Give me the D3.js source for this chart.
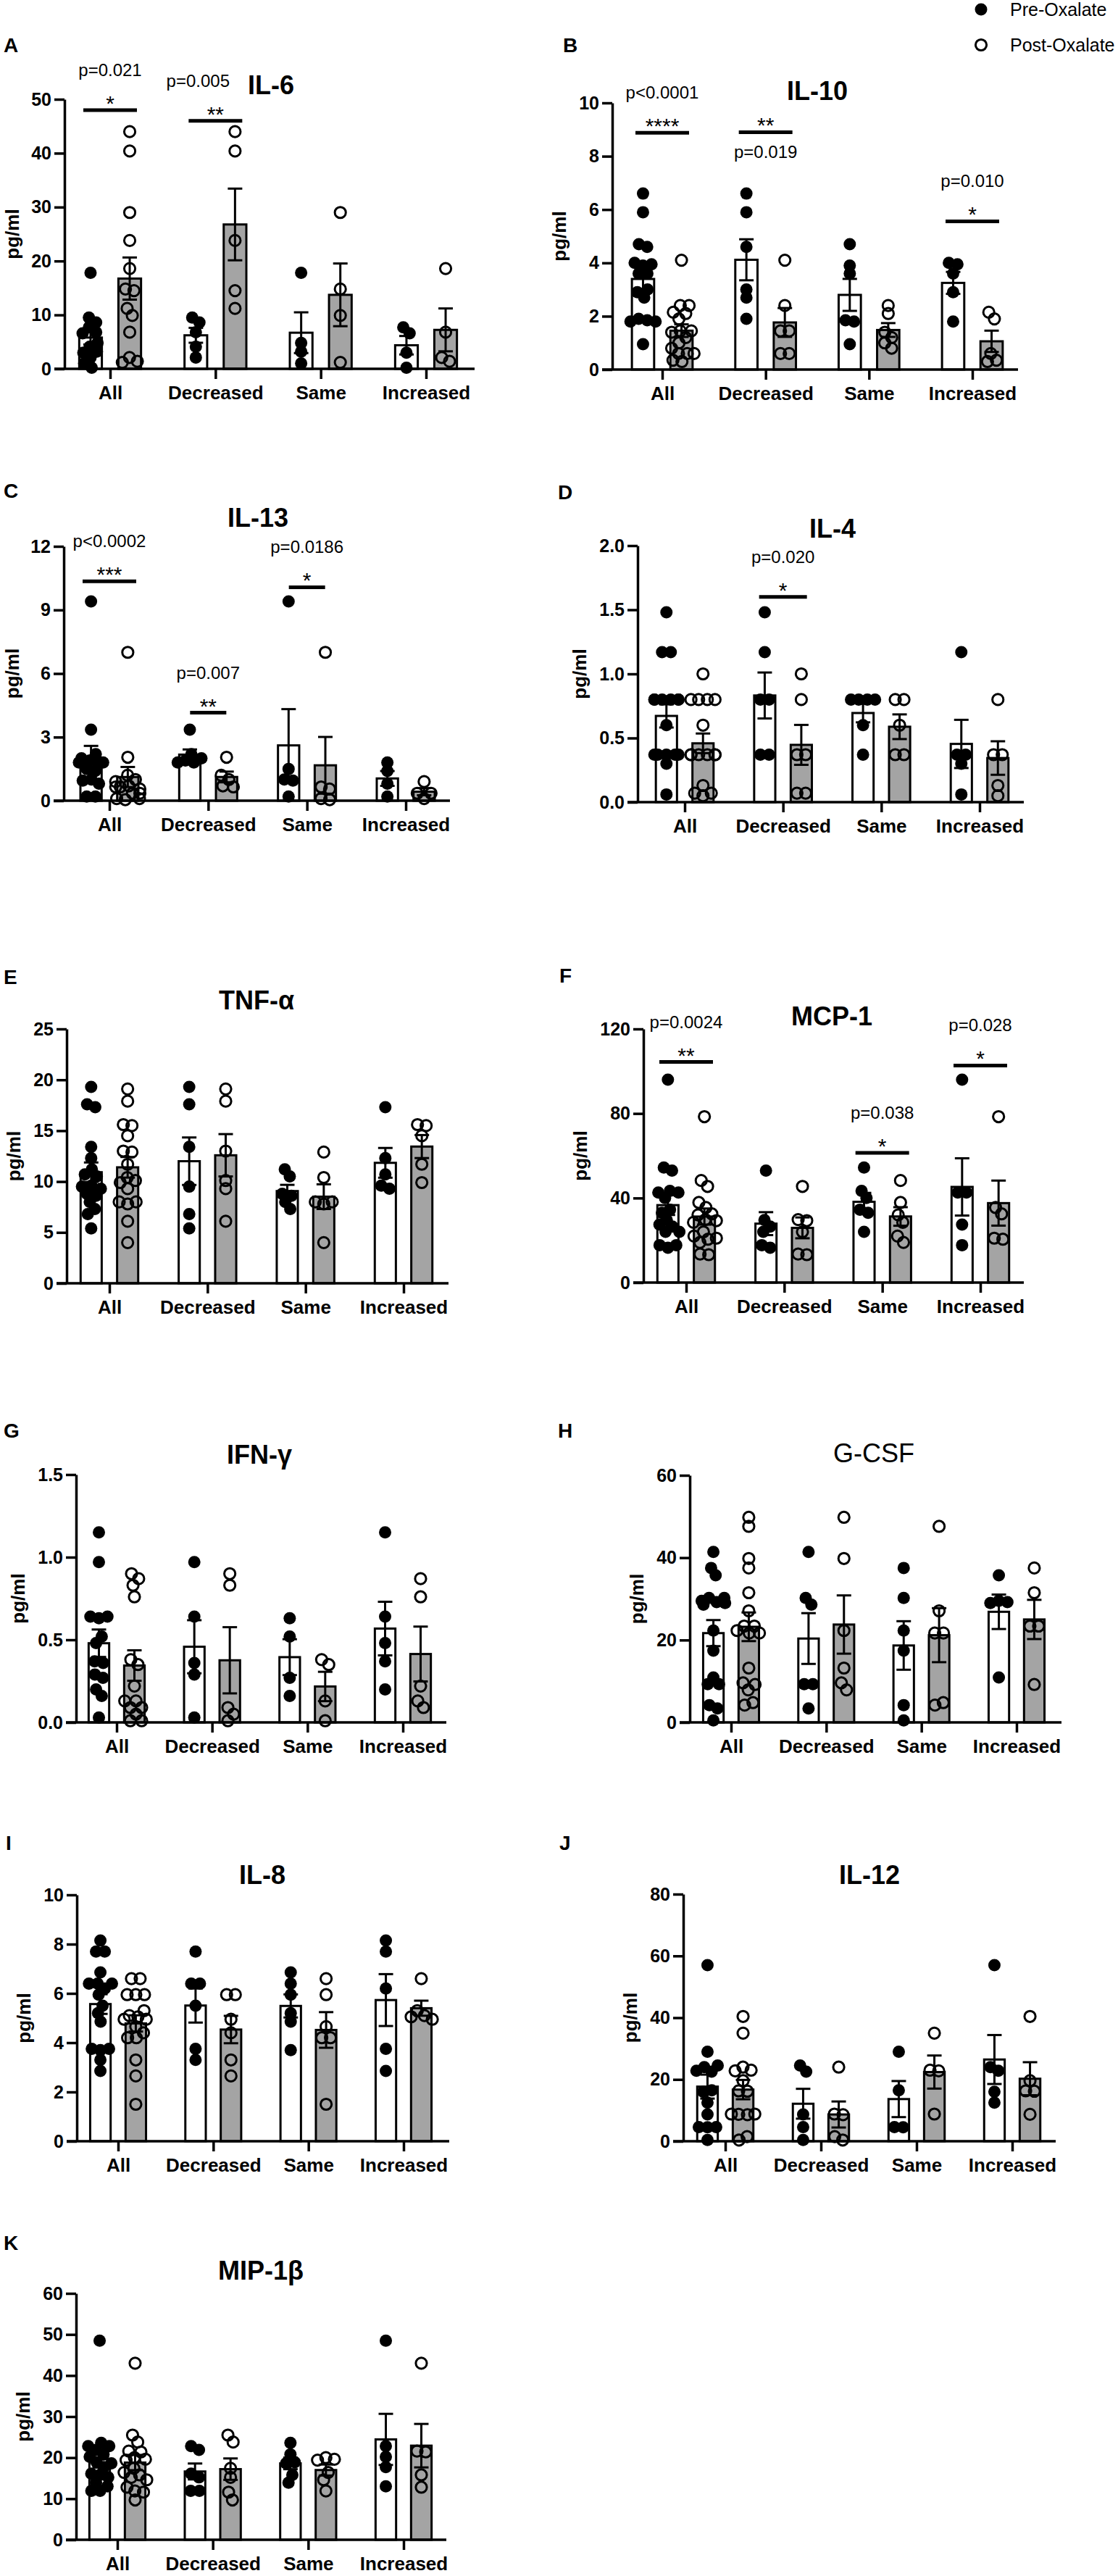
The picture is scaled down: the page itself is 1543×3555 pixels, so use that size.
<!DOCTYPE html>
<html lang="en">
<head>
<meta charset="UTF-8">
<title>Cytokines pre/post oxalate</title>
<style>
  body { margin: 0; background: #fff; }
  svg { display: block; font-family: "Liberation Sans", Arial, sans-serif; }
  .tick text { font-size: 25px; font-weight: bold; fill: #000; }
  .xaxis .tick text { font-size: 26px; }
  .title { font-size: 36px; font-weight: bold; text-anchor: middle; }
  .title.thin { font-weight: normal; }
  .letter { font-size: 28px; font-weight: bold; }
  .unit { font-size: 26px; font-weight: bold; text-anchor: middle; }
  .pval { font-size: 24px; text-anchor: middle; }
  .stars { font-size: 30px; text-anchor: middle; }
  .legend { font-size: 25px; }
</style>
</head>
<body>
<script src="https://d3js.org/d3.v7.min.js"></script>
<script>
const groups = ["All", "Decreased", "Same", "Increased"];
const seriesNames = ["Pre-Oxalate", "Post-Oxalate"];

// values per group: All, Decreased, Same, Increased
const il6Pre = [
  [17.8, 9.5, 8.6, 7.7, 6.8, 6.6, 4.8, 4.1, 3.2, 3.0, 2.1, 1.0, 0.2],
  [9.5, 8.6, 6.8, 4.1, 2.1],
  [17.8, 4.8, 3.2, 1.0],
  [7.7, 6.6, 3.0, 0.2]
];
const il6Post = [
  [44, 40.4, 29, 23.8, 18.6, 14.8, 14.5, 11.2, 9.9, 6.8, 2.1, 1.4, 1.2],
  [44, 40.4, 23.8, 14.5, 11.2],
  [29, 14.8, 9.9, 1.2],
  [18.6, 6.8, 2.1, 1.4]
];
const il6Ticks = [0, 10, 20, 30, 40, 50];
const il6Sig = [
  { group: "All", level: 48, stars: "*", p: "p=0.021" },
  { group: "Decreased", level: 46, stars: "**", p: "p=0.005" }
];

const il10Pre = [
  [6.6, 5.9, 4.7, 4.6, 4.0, 3.95, 3.9, 3.6, 3.6, 3.0, 2.9, 2.7, 1.9, 1.85, 1.8, 1.8, 0.95],
  [6.6, 5.9, 4.6, 3.0, 2.7, 1.9],
  [4.7, 3.9, 3.6, 1.85, 1.8, 0.95],
  [4.0, 3.95, 3.6, 2.9, 1.8]
];
const il10Post = [
  [4.1, 2.4, 2.4, 2.15, 2.1, 1.9, 1.45, 1.45, 1.4, 1.2, 1.0, 0.8, 0.6, 0.6, 0.6, 0.35, 0.3],
  [4.1, 2.4, 1.45, 1.45, 0.6, 0.6],
  [2.4, 2.1, 1.4, 1.2, 1.0, 0.8],
  [2.15, 1.9, 0.6, 0.35, 0.3]
];
const il10Ticks = [0, 2, 4, 6, 8, 10];
const il10Sig = [
  { group: "All", level: 8.88, stars: "****", p: "p<0.0001" },
  { group: "Decreased", level: 8.9, stars: "**", p: "p=0.019", below: true },
  { group: "Increased", level: 5.56, stars: "*", p: "p=0.010" }
];

const il13Pre = [
  [9.4, 3.35, 2.2, 2.0, 1.9, 1.8, 1.8, 1.8, 1.5, 1.4, 1.0, 0.95, 0.8, 0.2, 0.2],
  [3.35, 2.2, 2.0, 1.9, 1.8, 1.8],
  [9.4, 1.5, 1.0, 0.95, 0.2],
  [1.8, 1.4, 0.8, 0.2]
];
const il13Post = [
  [7.0, 2.05, 1.2, 1.0, 0.9, 0.7, 0.65, 0.65, 0.55, 0.35, 0.35, 0.1, 0.1, 0.05],
  [2.05, 1.2, 1.0, 0.7, 0.65],
  [7.0, 0.65, 0.55, 0.1, 0.05],
  [0.9, 0.35, 0.35, 0.1]
];
const il13Ticks = [0, 3, 6, 9, 12];
const il13Sig = [
  { group: "All", level: 10.35, stars: "***", p: "p<0.0002" },
  { group: "Decreased", level: 4.15, stars: "**", p: "p=0.007" },
  { group: "Same", level: 10.07, stars: "*", p: "p=0.0186" }
];

const il4Pre = [
  [1.48, 1.17, 1.17, 0.8, 0.8, 0.8, 0.8, 0.8, 0.8, 0.6, 0.37, 0.37, 0.37, 0.37, 0.37, 0.3, 0.06],
  [1.48, 1.17, 0.8, 0.8, 0.37, 0.37],
  [0.8, 0.8, 0.8, 0.8, 0.6, 0.37],
  [1.17, 0.37, 0.37, 0.3, 0.06]
];
const il4Post = [
  [1.0, 0.8, 0.8, 0.8, 0.8, 0.6, 0.37, 0.37, 0.37, 0.37, 0.37, 0.37, 0.13, 0.07, 0.07, 0.05],
  [1.0, 0.8, 0.37, 0.37, 0.07, 0.07],
  [0.8, 0.8, 0.6, 0.37, 0.37],
  [0.8, 0.37, 0.37, 0.13, 0.05]
];
const il4Ticks = [0, 0.5, 1.0, 1.5, 2.0];
const il4Sig = [
  { group: "Decreased", level: 1.6, stars: "*", p: "p=0.020" }
];

const tnfPre = [
  [19.3, 17.6, 17.3, 13.4, 12.3, 11.2, 10.7, 10.5, 9.6, 9.5, 9.3, 8.8, 8.6, 8.0, 7.3, 6.8, 5.4],
  [19.3, 17.6, 13.4, 9.5, 6.8, 5.4],
  [11.2, 10.5, 8.8, 8.6, 8.0, 7.3],
  [17.3, 12.3, 10.7, 9.6, 9.3]
];
const tnfPost = [
  [19.1, 17.9, 15.6, 15.5, 14.5, 13.0, 12.9, 11.7, 10.4, 10.1, 9.9, 9.3, 8.0, 8.0, 7.8, 6.1, 4.0],
  [19.1, 17.9, 13.0, 10.1, 9.3, 6.1],
  [12.9, 10.4, 8.0, 8.0, 7.8, 4.0],
  [15.6, 15.5, 14.5, 11.7, 9.9]
];
const tnfTicks = [0, 5, 10, 15, 20, 25];

const mcp1Pre = [
  [96, 54.4, 53, 43.4, 42.6, 42.6, 40, 34.5, 33, 29.6, 27.4, 26.5, 24, 24, 17.7, 17.7, 16.5],
  [53, 29.6, 26.5, 24, 17.7, 16.5],
  [54.4, 43.4, 40, 34.5, 33, 24],
  [96, 42.6, 42.6, 27.4, 17.7]
];
const mcp1Post = [
  [78.5, 48.3, 45.5, 37.9, 35.5, 32.5, 32, 29.8, 29.3, 28.5, 24, 22, 21, 20.5, 19, 13.5, 13.2],
  [45.5, 29.8, 29.3, 24, 13.5, 13.2],
  [48.3, 37.9, 32, 28.5, 22, 19],
  [78.5, 35.5, 32.5, 21, 20.5]
];
const mcp1Ticks = [0, 40, 80, 120];
const mcp1Sig = [
  { group: "All", level: 104.4, stars: "**", p: "p=0.0024" },
  { group: "Same", level: 61.4, stars: "*", p: "p=0.038" },
  { group: "Increased", level: 102.7, stars: "*", p: "p=0.028" }
];

const ifnPre = [
  [1.15, 0.97, 0.64, 0.64, 0.63, 0.52, 0.48, 0.37, 0.36, 0.29, 0.27, 0.2, 0.16, 0.03],
  [0.97, 0.64, 0.36, 0.29, 0.03],
  [0.63, 0.52, 0.27, 0.16],
  [1.15, 0.64, 0.48, 0.37, 0.2]
];
const ifnPost = [
  [0.9, 0.87, 0.83, 0.76, 0.38, 0.35, 0.22, 0.13, 0.13, 0.09, 0.09, 0.05, 0.01, 0.01],
  [0.9, 0.83, 0.09, 0.05, 0.01],
  [0.38, 0.35, 0.13, 0.01],
  [0.87, 0.76, 0.22, 0.13, 0.09]
];
const ifnTicks = [0, 0.5, 1.0, 1.5];

const gcsfPre = [
  [41.4, 37.5, 35.7, 30.2, 30.2, 29.5, 29.2, 29.0, 28.6, 22.3, 17.4, 10.9, 9.3, 9.3, 4.2, 3.4, 0.5],
  [41.4, 30.2, 28.6, 9.3, 9.3, 3.4],
  [37.5, 30.2, 22.3, 17.4, 4.2, 0.5],
  [35.7, 29.5, 29.2, 29.0, 10.9]
];
const gcsfPost = [
  [49.8, 47.6, 39.8, 37.5, 31.5, 27.1, 23.4, 23.4, 22.3, 21.7, 21.7, 13.2, 9.6, 9.2, 7.9, 4.8, 4.2],
  [49.8, 39.8, 22.3, 13.2, 9.6, 7.9],
  [47.6, 27.1, 21.7, 21.7, 4.8, 4.2],
  [37.5, 31.5, 23.4, 23.4, 9.2]
];
const gcsfTicks = [0, 20, 40, 60];

const il8Pre = [
  [8.15, 7.7, 7.7, 6.85, 6.4, 6.4, 6.4, 6.2, 5.95, 5.5, 5.2, 4.85, 3.75, 3.75, 3.7, 3.3, 2.85],
  [7.7, 6.4, 6.4, 5.5, 3.75, 3.3],
  [6.85, 6.4, 5.95, 5.2, 4.85, 3.7],
  [8.15, 7.7, 6.2, 3.75, 2.85]
];
const il8Post = [
  [6.6, 6.6, 5.95, 5.95, 5.95, 5.3, 5.1, 5.05, 4.95, 4.95, 4.65, 4.4, 4.2, 4.2, 3.3, 2.65, 1.5],
  [5.95, 5.95, 4.95, 4.4, 3.3, 2.65],
  [6.6, 5.95, 4.65, 4.2, 4.2, 1.5],
  [6.6, 5.3, 5.1, 5.05, 4.95]
];
const il8Ticks = [0, 2, 4, 6, 8, 10];

const il12Pre = [
  [57, 29, 24.5, 24, 22.8, 22.5, 16.5, 16, 12.5, 8.7, 4.6, 4.6, 4.5, 0.4],
  [24.5, 22.5, 8.7, 4.6, 0.4],
  [29, 16.5, 4.6, 4.5],
  [57, 24, 22.8, 16, 12.5]
];
const il12Post = [
  [40.4, 35, 24, 23, 22.8, 19.6, 16.3, 16.2, 8.8, 8.8, 8.7, 8.6, 1.5, 0.4],
  [24, 8.8, 8.6, 1.5, 0.4],
  [35, 23, 22.8, 8.8],
  [40.4, 19.6, 16.3, 16.2, 8.7]
];
const il12Ticks = [0, 20, 40, 60, 80];

const mip1bPre = [
  [48.5, 23.6, 22.8, 22.8, 21.9, 20.8, 20.2, 18.9, 18.6, 17.7, 16.1, 15.8, 15.2, 13.9, 13, 11.9, 11.9],
  [22.8, 21.9, 16.1, 15.2, 11.9, 11.9],
  [23.6, 20.8, 18.9, 18.6, 15.8, 13.9],
  [48.5, 22.8, 20.2, 17.7, 13]
];
const mip1bPost = [
  [43, 25.5, 23.8, 21.6, 21.4, 20, 19.6, 19.4, 17.4, 16.4, 15.8, 15.2, 14.6, 12.8, 11.9, 11.6, 9.7],
  [25.5, 23.8, 17.4, 15.2, 11.6, 9.7],
  [20, 19.6, 19.4, 16.4, 14.6, 11.9],
  [43, 21.6, 21.4, 15.8, 12.8]
];
const mip1bTicks = [0, 10, 20, 30, 40, 50, 60];

const panels = [
  { id: "A", name: "IL-6", pre: il6Pre, post: il6Post, ticks: il6Ticks, sig: il6Sig },
  { id: "B", name: "IL-10", pre: il10Pre, post: il10Post, ticks: il10Ticks, sig: il10Sig },
  { id: "C", name: "IL-13", pre: il13Pre, post: il13Post, ticks: il13Ticks, sig: il13Sig },
  { id: "D", name: "IL-4", pre: il4Pre, post: il4Post, ticks: il4Ticks, sig: il4Sig },
  { id: "E", name: "TNF-α", pre: tnfPre, post: tnfPost, ticks: tnfTicks, sig: [] },
  { id: "F", name: "MCP-1", pre: mcp1Pre, post: mcp1Post, ticks: mcp1Ticks, sig: mcp1Sig },
  { id: "G", name: "IFN-γ", pre: ifnPre, post: ifnPost, ticks: ifnTicks, sig: [] },
  { id: "H", name: "G-CSF", pre: gcsfPre, post: gcsfPost, ticks: gcsfTicks, sig: [] },
  { id: "I", name: "IL-8", pre: il8Pre, post: il8Post, ticks: il8Ticks, sig: [] },
  { id: "J", name: "IL-12", pre: il12Pre, post: il12Post, ticks: il12Ticks, sig: [] },
  { id: "K", name: "MIP-1β", pre: mip1bPre, post: mip1bPost, ticks: mip1bTicks, sig: [] }
];

// page geometry of each panel (pixels)
const layout = {
  A: { x0: 89, x1: 655, cx: [152, 588], yTop: 137, yBot: 509, title: [374, 130], letter: [5, 72], pShift: [0, -24, 0, 0] },
  B: { x0: 845, x1: 1405, cx: [914, 1342], yTop: 142, yBot: 510, title: [1128, 138], letter: [777, 72] },
  C: { x0: 88, x1: 621, cx: [151, 560], yTop: 754, yBot: 1105, title: [356, 727], letter: [5, 687], half: [37, 25, 25, 37] },
  D: { x0: 880, x1: 1413, cx: [945, 1352], yTop: 753, yBot: 1107, title: [1149, 742], letter: [770, 689], fmt: ".1f", half: [37, 33, 37, 37] },
  E: { x0: 92, x1: 619, cx: [151, 557], yTop: 1420, yBot: 1771, title: [354, 1393], letter: [5, 1358] },
  F: { x0: 888, x1: 1413, cx: [947, 1353], yTop: 1420, yBot: 1770, title: [1148, 1415], letter: [772, 1356] },
  G: { x0: 105, x1: 616, cx: [161, 556], yTop: 2035, yBot: 2377, title: [358, 2020], letter: [5, 1984], fmt: ".1f" },
  H: { x0: 952, x1: 1465, cx: [1009, 1403], yTop: 2036, yBot: 2377, title: [1206, 2018], letter: [770, 1984], thin: true },
  I: { x0: 106, x1: 620, cx: [163, 557], yTop: 2615, yBot: 2955, title: [362, 2600], letter: [8, 2553] },
  J: { x0: 943, x1: 1457, cx: [1001, 1397], yTop: 2614, yBot: 2955, title: [1200, 2600], letter: [772, 2553] },
  K: { x0: 105, x1: 616, cx: [162, 557], yTop: 3165, yBot: 3505, title: [360, 3146], letter: [5, 3105] }
};

const W = 1543, H = 3555;
const grey = "#a4a4a4";
const lw = 3.5;

const svg = d3.select("body").append("svg")
  .attr("width", W)
  .attr("height", H)
  .attr("viewBox", `0 0 ${W} ${H}`);

// compact scatter like Prism: spread equal-ish values sideways, keep within the bar
function swarm(values, cx, y, maxOff) {
  const nodes = values.map(v => ({ v, x: cx, fy: y(v) }));
  const sim = d3.forceSimulation(nodes)
    .force("x", d3.forceX(cx).strength(0.2))
    .force("collide", d3.forceCollide(6))
    .stop();
  for (let i = 0; i < 250; i++) sim.tick();
  nodes.forEach(n => { n.x = Math.max(cx - maxOff, Math.min(cx + maxOff, n.x)); });
  return nodes;
}

panels.forEach(p => {
  const L = layout[p.id];
  const g = svg.append("g").attr("class", "panel");

  const x = d3.scalePoint().domain(groups).range(L.cx);
  const step = x.step();
  const off = 0.186 * step;
  const barW = 0.215 * step;
  const maxOff = barW / 2 + 2;
  const y = d3.scaleLinear().domain([0, d3.max(p.ticks)]).range([L.yBot, L.yTop]);

  const stats = s => s.map(vals => {
    const m = d3.mean(vals);
    const se = d3.deviation(vals) / Math.sqrt(vals.length);
    return { m, se };
  });
  const preStats = stats(p.pre);
  const postStats = stats(p.post);

  // bars
  const series = [
    { key: "pre", dx: -off, fill: "#fff", st: preStats },
    { key: "post", dx: off, fill: grey, st: postStats }
  ];
  series.forEach(s => {
    g.append("g").selectAll("rect")
      .data(groups)
      .join("rect")
      .attr("x", d => x(d) + s.dx - barW / 2)
      .attr("y", (d, i) => y(s.st[i].m))
      .attr("width", barW)
      .attr("height", (d, i) => L.yBot - y(s.st[i].m))
      .attr("fill", s.fill)
      .attr("stroke", "#000")
      .attr("stroke-width", 3);
  });

  // y axis
  const fmt = d3.format(L.fmt || "d");
  const ya = g.append("g")
    .attr("transform", `translate(${L.x0},0)`)
    .call(d3.axisLeft(y).tickValues(p.ticks).tickFormat(fmt).tickSize(14).tickSizeOuter(0).tickPadding(4))
    .attr("font-size", null)
    .attr("font-family", null);
  ya.selectAll("path, line").attr("stroke", "#000").attr("stroke-width", lw);

  // x axis
  g.append("line")
    .attr("x1", L.x0 - 14).attr("x2", L.x1)
    .attr("y1", L.yBot).attr("y2", L.yBot)
    .attr("stroke", "#000").attr("stroke-width", lw);
  const xa = g.append("g")
    .attr("class", "xaxis")
    .attr("transform", `translate(0,${L.yBot})`)
    .call(d3.axisBottom(x).tickSize(14).tickSizeOuter(0).tickPadding(10))
    .attr("font-size", null)
    .attr("font-family", null);
  xa.select(".domain").remove();
  xa.selectAll("line").attr("stroke", "#000").attr("stroke-width", lw);

  // unit label
  const bb = ya.node().getBBox();
  const ux = Math.max(26, L.x0 + bb.x - 18);
  g.append("text")
    .attr("class", "unit")
    .attr("transform", `translate(${ux},${(L.yTop + L.yBot) / 2}) rotate(-90)`)
    .text("pg/ml");

  // points
  groups.forEach((grp, i) => {
    swarm(p.pre[i], x(grp) - off, y, maxOff).forEach(n => {
      g.append("circle")
        .attr("cx", n.x).attr("cy", n.fy)
        .attr("r", 8.5).attr("fill", "#000");
    });
    swarm(p.post[i], x(grp) + off, y, maxOff).forEach(n => {
      g.append("circle")
        .attr("cx", n.x).attr("cy", n.fy)
        .attr("r", 7.6).attr("fill", "none")
        .attr("stroke", "#000").attr("stroke-width", 3);
    });
  });

  // error bars (mean ± SEM)
  series.forEach(s => {
    groups.forEach((grp, i) => {
      const cx = x(grp) + s.dx;
      const { m, se } = s.st[i];
      const eb = g.append("g").attr("stroke", "#000").attr("stroke-width", 3);
      eb.append("line").attr("x1", cx).attr("x2", cx).attr("y1", y(m - se)).attr("y2", y(m + se));
      [m - se, m + se].forEach(v => {
        eb.append("line").attr("x1", cx - 10).attr("x2", cx + 10).attr("y1", y(v)).attr("y2", y(v));
      });
    });
  });

  // significance
  p.sig.forEach(s => {
    const i = groups.indexOf(s.group);
    const half = L.half ? L.half[i] : 37;
    const shift = L.pShift ? L.pShift[i] : 0;
    const cx = x(s.group);
    const ly = y(s.level);
    g.append("line")
      .attr("x1", cx - half).attr("x2", cx + half)
      .attr("y1", ly).attr("y2", ly)
      .attr("stroke", "#000").attr("stroke-width", 5);
    g.append("text").attr("class", "stars")
      .attr("x", cx).attr("y", ly + 1)
      .text(s.stars);
    g.append("text").attr("class", "pval")
      .attr("x", cx + shift).attr("y", s.below ? ly + 36 : ly - 47)
      .text(s.p);
  });

  // title and panel letter
  g.append("text")
    .attr("class", L.thin ? "title thin" : "title")
    .attr("x", L.title[0]).attr("y", L.title[1])
    .text(p.name);
  g.append("text")
    .attr("class", "letter")
    .attr("x", L.letter[0]).attr("y", L.letter[1])
    .text(p.id);
});

// legend
const legend = svg.append("g");
seriesNames.forEach((name, i) => {
  const cy = 13 + i * 49;
  if (i === 0) {
    legend.append("circle").attr("cx", 1354).attr("cy", cy).attr("r", 8.5).attr("fill", "#000");
  } else {
    legend.append("circle").attr("cx", 1354).attr("cy", cy).attr("r", 7.6)
      .attr("fill", "none").attr("stroke", "#000").attr("stroke-width", 3);
  }
  legend.append("text")
    .attr("class", "legend")
    .attr("x", 1394).attr("y", cy + 9)
    .text(name);
});
</script>
</body>
</html>
